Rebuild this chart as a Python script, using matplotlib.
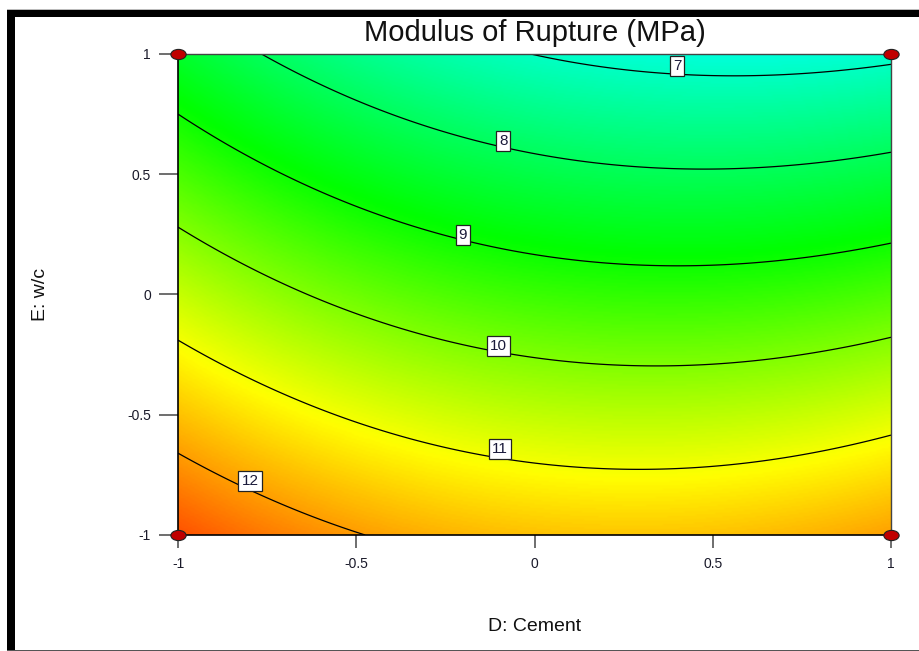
# contour plot of the fitted Modulus of Rupture model (D: Cement vs E: w/c)
import numpy as np
import matplotlib
matplotlib.use('Agg')
import matplotlib.pyplot as plt
from matplotlib.colors import LinearSegmentedColormap
from matplotlib.path import Path
from matplotlib.patches import Rectangle

plt.rcParams['font.family'] = ['Liberation Sans', 'DejaVu Sans']

# coded factor ranges
d_range = [-1, 1]
e_range = [-1, 1]

# model:
# MOR = b0 + bD*D + bE*E + bDE*D*E + bDD*D^2 + bEE*E^2 + bDEE*D*E^2
b0, bD, bE, bDE, bDD, bEE, bDEE = 9.39, -0.523, -2.339, -0.211, 0.683, -0.06, -0.06

contour_levels = [7, 8, 9, 10, 11, 12]
# where each contour label box sits (D, E at the bottom of the box)
label_d = [0.40, -0.088, -0.201, -0.102, -0.097, -0.798]
label_e = [0.921, 0.609, 0.218, -0.243, -0.672, -0.805]

# design points (corners)
design_d = [-1, 1, -1, 1]
design_e = [1, 1, -1, -1]

ticks = [-1, -0.5, 0, 0.5, 1]
tick_labels = ['-1', '-0.5', '0', '0.5', '1']

# Design-Expert style colour ramp (response value -> colour)
ramp_values = [4.0, 6.4, 8.9, 11.1, 13.5]
ramp_colors = ['#0000ff', '#00ffff', '#00ff00', '#ffff00', '#ff0000']
vmin, vmax = ramp_values[0], ramp_values[-1]
cmap = LinearSegmentedColormap.from_list(
    'dx', [((v - vmin) / (vmax - vmin), c) for v, c in zip(ramp_values, ramp_colors)])

d = np.linspace(d_range[0], d_range[1], 300)
e = np.linspace(e_range[0], e_range[1], 300)
D, E = np.meshgrid(d, e)
Z = (b0 + bD * D + bE * E + bDE * D * E + bDD * D ** 2 + bEE * E ** 2
     + bDEE * D * E ** 2)

fig = plt.figure(figsize=(9.2, 6.51), dpi=100)
ax = fig.add_axes([0.1935, 0.1782, 0.775, 0.7389])

ax.imshow(Z, extent=[-1, 1, -1, 1], origin='lower', cmap=cmap,
          vmin=vmin, vmax=vmax, aspect='auto', interpolation='bilinear')
ax.contour(D, E, Z, levels=contour_levels, colors='black', linewidths=0.9)

for lev, ld, le in zip(contour_levels, label_d, label_e):
    ax.text(ld, le, str(lev), ha='center', va='bottom', fontsize=11,
            color='#1a1a3a', zorder=5,
            bbox=dict(boxstyle='square,pad=0.2', fc='white', ec='#222222', lw=0.9))

# design point markers (flattened ellipse)
circ = Path.unit_circle()
ell = Path(circ.vertices * [1.5, 1.0], circ.codes)
ax.plot(design_d, design_e, linestyle='none', marker=ell, markersize=11,
        markerfacecolor='#c00000', markeredgecolor='#222222',
        markeredgewidth=0.8, clip_on=False, zorder=10)

ax.set_xlim(-1, 1)
ax.set_ylim(-1, 1)
ax.set_xticks(ticks)
ax.set_xticklabels(tick_labels)
ax.set_yticks(ticks)
ax.set_yticklabels(tick_labels)
ax.tick_params(axis='x', direction='out', length=9, width=1.2, color='#555555',
               pad=7, labelsize=10, labelcolor='#1a1a2a')
ax.tick_params(axis='y', direction='out', length=13.5, width=1.2, color='#555555',
               pad=6, labelsize=10, labelcolor='#1a1a2a')
for side in ['left', 'bottom']:
    ax.spines[side].set_color('black')
    ax.spines[side].set_linewidth(1.2)
for side in ['top', 'right']:
    ax.spines[side].set_color('#444444')
    ax.spines[side].set_linewidth(1.0)

fig.text(0.581, 0.950, 'Modulus of Rupture (MPa)', ha='center', va='center',
         fontsize=21, color='#111111')
fig.text(0.581, 0.0369, 'D: Cement', ha='center', va='center', fontsize=14,
         color='#111111')
fig.text(0.0435, 0.5476, 'E: w/c', ha='center', va='center', rotation=90,
         fontsize=14, color='#111111')

# window frame around the screenshot
fig.add_artist(Rectangle((0.0076, 0.9739), 0.9924, 0.0108, transform=fig.transFigure,
                         fc='black', ec='none'))
fig.add_artist(Rectangle((0.0076, 0.0), 0.0087, 0.9847, transform=fig.transFigure,
                         fc='black', ec='none'))
fig.add_artist(Rectangle((0.0076, 0.0), 0.9924, 0.0023, transform=fig.transFigure,
                         fc='#555555', ec='none'))
fig.add_artist(Rectangle((0.0076, 0.9847), 0.9924, 0.0015, transform=fig.transFigure,
                         fc='#bbbbbb', ec='none'))

fig.savefig('out.png', dpi=100)
